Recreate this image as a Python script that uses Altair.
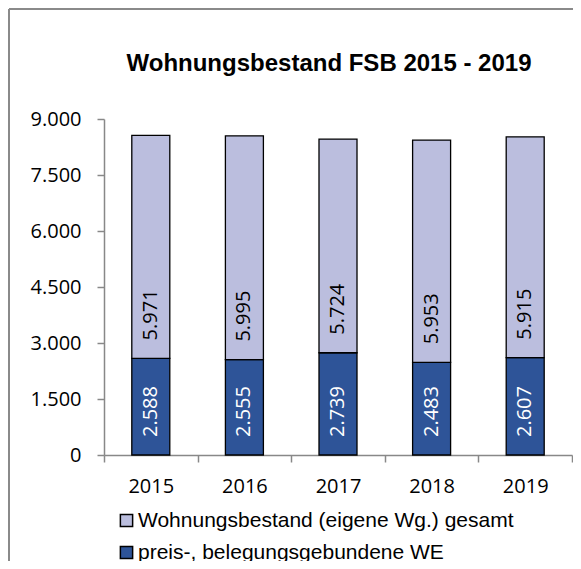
import altair as alt
import pandas as pd

years = ["2015", "2016", "2017", "2018", "2019"]
gebunden = [2588, 2555, 2739, 2483, 2607]
bestand_rest = [5971, 5995, 5724, 5953, 5915]
series_names = ["Wohnungsbestand (eigene Wg.) gesamt", "preis-, belegungsgebundene WE"]
series_colors = ["#BBBEDE", "#2E5498"]
y_ticks = [0, 1500, 3000, 4500, 6000, 7500, 9000]

rows = []
for i, y in enumerate(years):
    rows.append({"Jahr": y, "Serie": series_names[1], "Wert": gebunden[i], "ord": 0})
    rows.append({"Jahr": y, "Serie": series_names[0], "Wert": bestand_rest[i], "ord": 1})
df = pd.DataFrame(rows)

W, H = 468, 336
AXIS_FONT = "Open Sans"

base = alt.Chart(df).transform_stack(
    stack="Wert", groupby=["Jahr"], as_=["y0", "y1"], sort=[alt.SortField("ord", order="ascending")]
).transform_calculate(
    label="replace(format(datum.Wert, ','), ',', '.')"
)

xenc = alt.X("Jahr:N", sort=years, title=None,
             scale=alt.Scale(paddingInner=0, paddingOuter=0),
             axis=alt.Axis(labelAngle=0, tickBand="extent", domainColor="#888888",
                           tickColor="#888888", domainWidth=1.5, tickWidth=1.5, tickSize=7,
                           labelFont=AXIS_FONT, labelFontSize=20, labelColor="#000000",
                           labelPadding=14, grid=False))

bars = base.mark_bar(width=38, stroke="#000000", strokeWidth=1.3).encode(
    x=xenc,
    y=alt.Y("y0:Q", scale=alt.Scale(domain=[0, 9000], nice=False), title=None,
            axis=alt.Axis(values=y_ticks, grid=False, domainColor="#888888", tickColor="#888888",
                          domainWidth=1.5, tickWidth=1.5, tickSize=7, labelPadding=16,
                          labelFont=AXIS_FONT, labelFontSize=20, labelColor="#000000",
                          labelExpr="replace(format(datum.value, ','), ',', '.')")),
    y2="y1:Q",
    color=alt.Color("Serie:N", scale=alt.Scale(domain=series_names, range=series_colors),
                    legend=alt.Legend(title=None, orient="none", legendX=12, legendY=391,
                                      direction="vertical", symbolType="square", symbolSize=150,
                                      symbolStrokeColor="#000000", symbolStrokeWidth=1.5,
                                      labelFont="Liberation Sans", labelFontSize=21,
                                      labelColor="#000000", rowPadding=10, labelOffset=1,
                                      labelLimit=0)),
)

texts = base.mark_text(angle=270, align="left", baseline="middle", dx=18,
                       font=AXIS_FONT, fontSize=20).encode(
    x=alt.X("Jahr:N", sort=years),
    y=alt.Y("y0:Q"),
    text="label:N",
    color=alt.Color("Serie:N", scale=alt.Scale(domain=series_names, range=["#000000", "#FFFFFF"]),
                    legend=None),
)

frame_df = pd.DataFrame({"k": [0]})
frame_left = alt.Chart(frame_df).mark_rule(color="#8A8A8A", strokeWidth=2, clip=False).encode(
    x=alt.value(-95), y=alt.value(-110), y2=alt.value(H + 120))
frame_top = alt.Chart(frame_df).mark_rule(color="#8A8A8A", strokeWidth=2, clip=False).encode(
    x=alt.value(-95), x2=alt.value(W + 20), y=alt.value(-110))

chart = alt.layer(bars, texts, frame_left, frame_top).resolve_scale(color="independent").properties(
    width=W, height=H,
    title=alt.TitleParams("Wohnungsbestand FSB 2015 - 2019", font="Liberation Sans", fontSize=24,
                          fontWeight="bold", color="#000000", anchor="middle", dx=-9, offset=-68),
    autosize=alt.AutoSizeParams(type="none"),
    padding={"left": 96, "top": 111, "right": 1, "bottom": 106},
).configure_view(stroke=None)

chart.save("out.html", embed_options={"renderer": "svg", "actions": False})
